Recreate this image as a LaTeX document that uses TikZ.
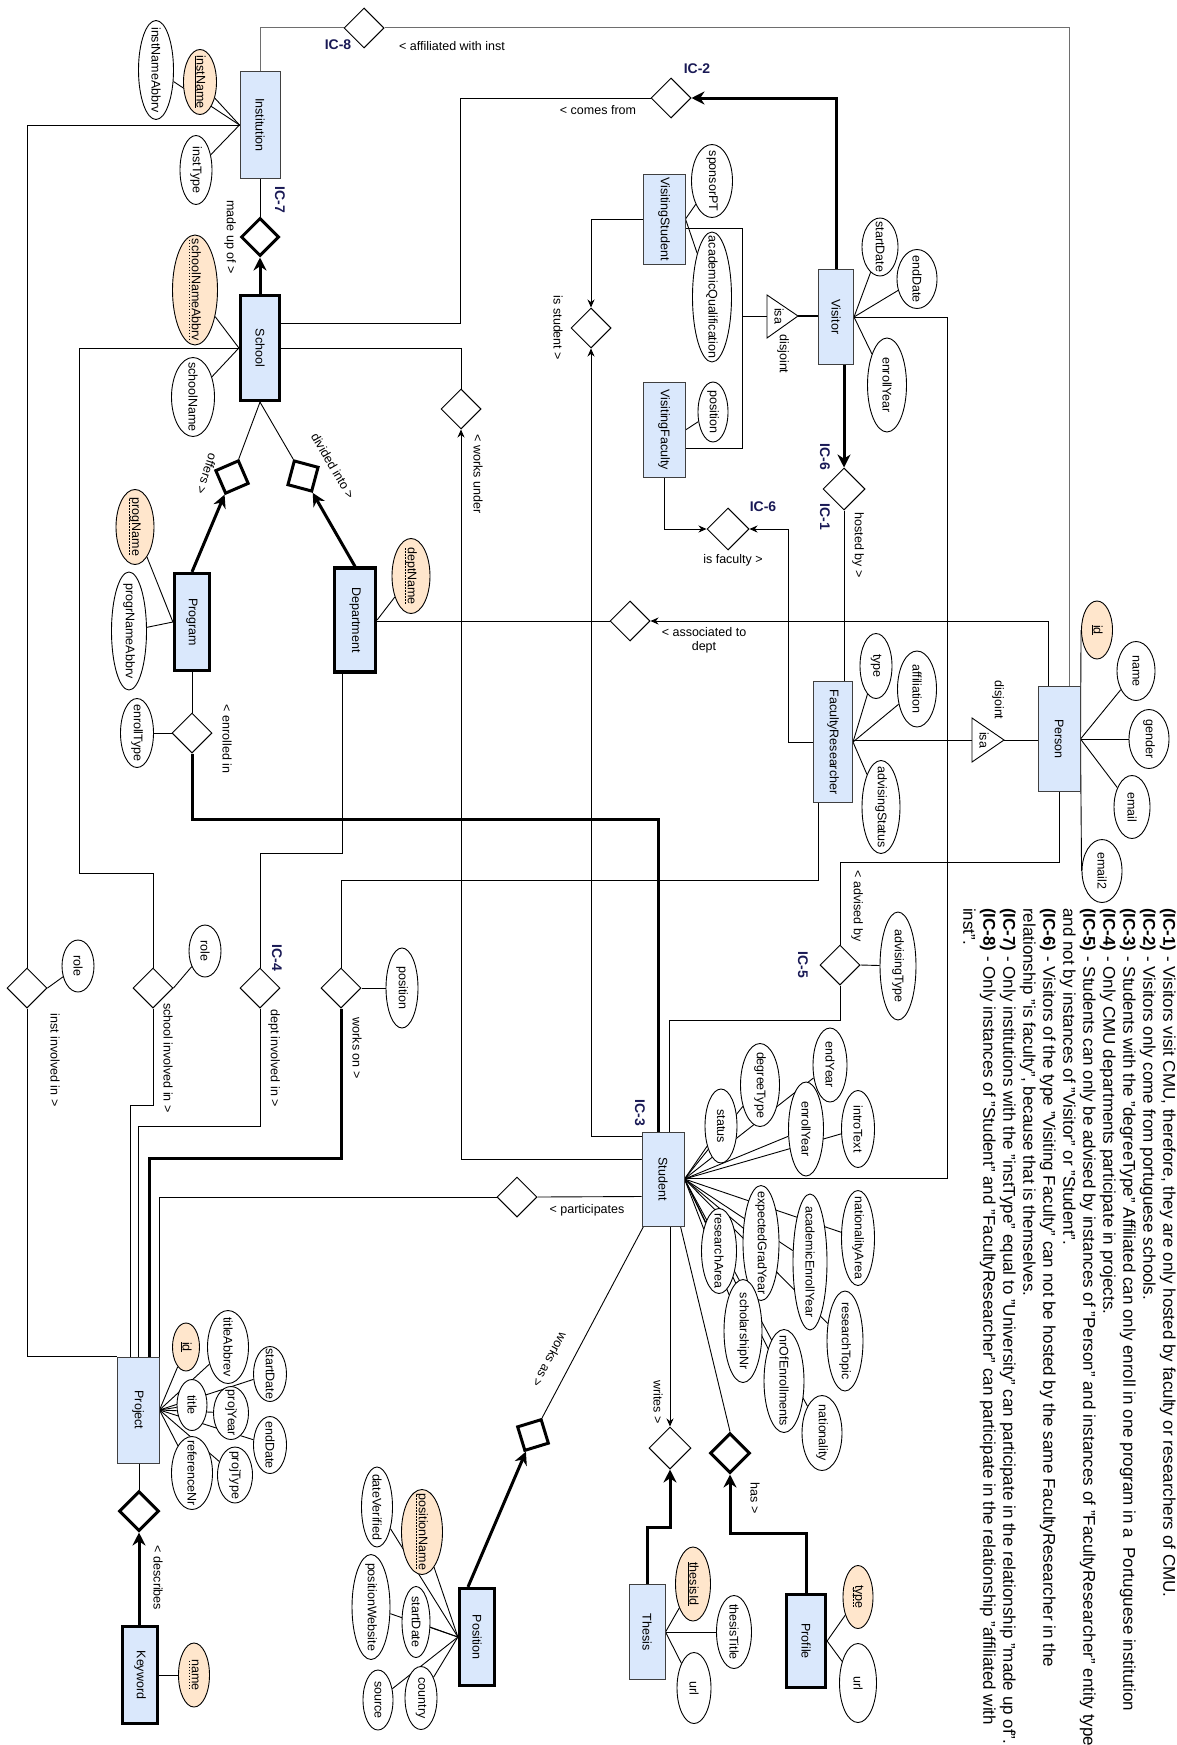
\documentclass[tikz,border=0pt]{standalone}
\usepackage{fontspec}
\setmainfont{Liberation Sans}
\usetikzlibrary{shapes.geometric,arrows.meta,calc,backgrounds}
\definecolor{entfill}{HTML}{DAE8FC}
\definecolor{keyfill}{HTML}{FFE6CC}
\definecolor{icnavy}{RGB}{25,25,85}
\definecolor{edgegray}{RGB}{110,110,110}
\newcommand\fsz{\fontsize{12.5}{14}\selectfont}
\newcommand\icfont{\fontsize{14}{16}\selectfont\bfseries}
\newcommand\notefont{\fontsize{17}{20}\selectfont}
\newcommand\uln[1]{\underline{#1}}
\newsavebox\dulbox
\newcommand\dul[1]{\sbox\dulbox{#1}\leavevmode\rlap{\raisebox{-2.6pt}{\hbox to \wd\dulbox{\cleaders\hbox to 3pt{\hss\rule{1.6pt}{0.6pt}\hss}\hfill}}}\usebox\dulbox}
\tikzset{
 ent/.style={rectangle, draw=black!75, fill=entfill, line width=1pt, inner sep=0},
 went/.style={ent, draw=black, line width=3.2pt},
 attr/.style={ellipse, draw=black, fill=white, line width=0.9pt, inner sep=0},
 key/.style={attr, fill=keyfill},
 rel/.style={diamond, draw=black, fill=white, line width=1pt, inner sep=0, minimum width=40pt, minimum height=40pt},
 wrel/.style={rel, line width=3pt},
 lbl/.style={font=\fsz, inner sep=0},
 txt/.style={lbl, rotate=-90},
 ic/.style={font=\icfont, text=icnavy, inner sep=0},
 ln/.style={line width=0.9pt, draw=black},
 tln/.style={line width=3pt, draw=black},
 arr/.style={ln, -{Stealth[length=8pt,width=7pt]}},
 tarr/.style={tln, -{Stealth[length=13pt,width=13pt]}},
 gln/.style={line width=1pt, draw=edgegray},
 isashape/.style={draw=black, fill=white, line width=0.9pt},
}
\newcommand\Ent[7][ent]{\node[#1,minimum width=#5pt,minimum height=#6pt] (#2) at (#3,#4) {};\node[txt] (#2-t) at (#2) {#7};}
\newcommand\Att[7][attr]{\node[#1,minimum width=#5pt,minimum height=#6pt] (#2) at (#3,#4) {};\node[txt] (#2-t) at (#2) {#7};}
\begin{document}
\begin{tikzpicture}[x=1pt,y=-1pt]
\useasboundingbox (0,0) rectangle (1176,1745);

% ---------- entities
\Ent{inst}{260}{125}{40}{106}{Institution}
\Ent[went]{school}{260}{348}{39}{105}{School}
\Ent[went]{program}{192}{622}{35}{97}{Program}
\Ent[went]{dept}{355}{620}{41}{104}{Department}
\Ent{vstud}{664}{219}{42}{90}{VisitingStudent}
\Ent{vfac}{664}{430}{42}{95}{VisitingFaculty}
\Ent{visitor}{836}{317}{35}{95}{Visitor}
\Ent{fr}{833}{742}{39}{121}{FacultyResearcher}
\Ent{person}{1059}{739}{42}{105}{Person}
\Ent{student}{663}{1179}{42}{94}{Student}
\Ent{project}{138}{1410}{42}{106}{Project}
\Ent[went]{keyword}{140}{1675}{35}{97}{Keyword}
\Ent[went]{position}{477}{1637}{35}{97}{Position}
\Ent{thesis}{647}{1632}{36}{95}{Thesis}
\Ent[went]{profile}{806}{1641}{39}{93}{Profile}

% ---------- relationships
\node[rel] (affil) at (364,28) {};
\node[rel] (comes) at (671,98) {};
\node[wrel, minimum width=38pt, minimum height=38pt] (madeup) at (260,237) {};
\node[rel] (isstud) at (591,328) {};
\node[rel] (worksunder) at (461,409) {};
\node[rel, minimum width=42pt, minimum height=42pt] (hosted) at (844,489) {};
\node[rel, minimum width=42pt, minimum height=42pt] (isfac) at (728,529) {};
\node[rel] (assoc) at (630,621) {};
\node[rel] (enrolled) at (192,733) {};
\node[wrel, minimum width=36pt, minimum height=36pt, rotate=-21.6] (offers) at (232,477) {};
\node[wrel, minimum width=36pt, minimum height=36pt, rotate=30] (divided) at (303,476) {};
\node[wrel, minimum width=36pt, minimum height=36pt, rotate=-28] (worksas) at (533,1435) {};
\node[rel, minimum width=42pt, minimum height=42pt] (writes) at (670,1448) {};
\node[wrel] (has) at (730,1453) {};
\node[wrel] (describes) at (139,1511) {};
\node[rel] (workson) at (341,988) {};
\node[rel] (deptinv) at (260,988) {};
\node[rel] (schoolinv) at (153,988) {};
\node[rel] (instinv) at (27,988) {};
\node[rel] (advised) at (840,965) {};
\node[rel] (particip) at (517,1197) {};

% ---------- isa triangles
\coordinate (isa1b) at (767,316);
\coordinate (isa1a) at (798,316);
\draw[isashape] (767,295) -- (isa1a) -- (767,338) -- cycle;
\coordinate (isa2b) at (972,740);
\coordinate (isa2a) at (1004,740);
\draw[isashape] (972,718) -- (isa2a) -- (972,762) -- cycle;
\node[txt] (isa1-t) at (779,316) {isa};
\node[txt] (isa2-t) at (984,740) {isa};

% ---------- attributes
\Att{instNameAbbrv}{156}{70}{35}{99}{instNameAbbrv}
\Att[key]{instName}{200}{82}{33}{65}{\uln{instName}}
\Att{instType}{196}{170}{32}{69}{instType}
\Att[key]{schoolNameAbbrv}{195}{290}{45}{110}{\dul{schoolNameAbbrv}}
\Att{schoolName}{193}{397}{43}{79}{schoolName}
\Att[key]{progName}{135}{527}{38}{75}{\dul{progName}}
\Att{progrNameAbbrv}{129}{631}{35}{118}{progrNameAbbrv}
\Att{enrollType}{137}{733}{33}{69}{enrollType}
\Att[key]{deptName}{411}{576}{38}{75}{\dul{deptName}}
\Att{sponsorPT}{712}{181}{41}{73}{sponsorPT}
\Att{acadQual}{712}{297}{39}{130}{academicQualification}
\Att{vfpos}{713}{412}{30}{60}{position}
\Att{vstart}{880}{247}{36}{58}{startDate}
\Att{vend}{917}{279}{40}{59}{endDate}
\Att{venroll}{887}{385}{39}{94}{enrollYear}
\Att{frtype}{876}{666}{32}{65}{type}
\Att{affiliation}{917}{689}{39}{76}{affiliation}
\Att{advStatus}{881}{807}{38}{93}{advisingStatus}
\Att[key]{perid}{1097}{630}{31}{58}{\uln{id}}
\Att{pname}{1136}{671}{38}{59}{name}
\Att{gender}{1149}{739}{40}{59}{gender}
\Att{email}{1132}{807}{36}{63}{email}
\Att{email2}{1102}{871}{40}{63}{email2}
\Att{wpos}{402}{988}{32}{80}{position}
\Att{role1}{205}{951}{32}{52}{role}
\Att{role2}{78}{966}{32}{52}{role}
\Att{advType}{898}{966}{36}{108}{advisingType}
\Att{status}{721}{1126}{32}{74}{status}
\Att{degreeType}{760}{1085}{39}{83}{degreeType}
\Att{senroll}{806}{1129}{35}{94}{enrollYear}
\Att{endYear}{830}{1065}{34}{74}{endYear}
\Att{introText}{858}{1129}{33}{77}{introText}
\Att{expGrad}{761}{1243}{36}{115}{expectedGradYear}
\Att{resArea}{719}{1251}{35}{85}{researchArea}
\Att{acadEnroll}{810}{1262}{34}{136}{academicEnrollYear}
\Att{natArea}{858}{1238}{33}{95}{nationalityArea}
\Att{resTopic}{845}{1341}{36}{100}{researchTopic}
\Att{scholNr}{743}{1331}{38}{103}{scholarshipNr}
\Att{nrEnroll}{784}{1381}{40}{103}{nrOfEnrollments}
\Att{nationality}{822}{1433}{40}{75}{nationality}
\Att[key]{pid}{186}{1347}{27}{48}{\uln{id}}
\Att{titleAbbrev}{228}{1347}{41}{73}{titleAbbrev}
\Att{pstart}{270}{1374}{33}{55}{startDate}
\Att{title}{192}{1405}{30}{51}{title}
\Att{projYear}{231}{1413}{35}{53}{projYear}
\Att{pend}{270}{1445}{33}{57}{endDate}
\Att{refNr}{192}{1473}{41}{73}{referenceNr}
\Att{projType}{235}{1475}{35}{56}{projType}
\Att[key]{kname}{194}{1675}{31}{64}{\dul{name}}
\Att[key]{posName}{422}{1532}{41}{85}{\dul{positionName}}
\Att{posStart}{416}{1622}{28}{71}{startDate}
\Att{country}{421}{1698}{32}{63}{country}
\Att{dateVer}{377}{1507}{31}{80}{dateVerified}
\Att{posWeb}{371}{1607}{38}{105}{positionWebsite}
\Att{source}{378}{1700}{30}{60}{source}
\Att[key]{thesisId}{693}{1584}{35}{74}{\uln{thesisId}}
\Att{thesisTitle}{734}{1632}{35}{73}{thesisTitle}
\Att{turl}{694}{1688}{34}{71}{url}
\Att[key]{ptype}{858}{1597}{30}{63}{\dul{type}}
\Att{purl}{858}{1683}{37}{79}{url}

% ---------- relationship labels
\node[txt] (l1) at (230,237) {made up of >};
\node[txt] (l2) at (227,739) {< enrolled in};
\node[lbl, rotate=-108] (l3) at (207,474) {offers >};
\node[lbl, rotate=-60] (l4) at (333,466) {divided into >};
\node[txt] (l5) at (478,474) {< works under};
\node[txt] (l6) at (558,328) {is student >};
\node[txt] (l7) at (858,545) {hosted by >};
\node[txt] (l8) at (783,354) {disjoint};
\node[txt] (l9) at (998,700) {disjoint};
\node[txt] (l10) at (357,1048) {works on >};
\node[txt] (l11) at (274,1058) {dept involved in >};
\node[txt] (l12) at (168,1058) {school involved in >};
\node[txt] (l13) at (55,1060) {inst involved in >};
\node[txt] (l14) at (857,906) {< advised by};
\node[txt] (l15) at (658,1402) {writes >};
\node[txt] (l16) at (755,1498) {has >};
\node[txt] (l17) at (158,1578) {< describes};
\node[lbl, rotate=-118] (l18) at (550,1360) {works as >};
\node[lbl] (l19) at (452,46) {< affiliated with inst};
\node[lbl] (l20) at (598,110) {< comes from};
\node[lbl] (l21) at (733,560) {is faculty >};
\node[lbl, align=center] (l22) at (704,640) {< associated to\\dept};
\node[lbl] (l23) at (587,1210) {< participates};

% ---------- IC labels
\node[ic] (ic8) at (338,45) {IC-8};
\node[ic] (ic2) at (697,69) {IC-2};
\node[ic, rotate=-90] (ic7) at (280,200) {IC-7};
\node[ic, rotate=-90] (ic6a) at (825,457) {IC-6};
\node[ic, rotate=-90] (ic1) at (825,517) {IC-1};
\node[ic] (ic6b) at (763,507) {IC-6};
\node[ic, rotate=-90] (ic4) at (277,958) {IC-4};
\node[ic, rotate=-90] (ic5) at (803,965) {IC-5};
\node[ic, rotate=-90] (ic3) at (640,1113) {IC-3};

% ---------- notes
\node[rotate=-90, anchor=north west, inner sep=0, align=left, font=\notefont] (notes) at (1176,908) {%
\textbf{(IC-1)} - Visitors visit CMU, therefore, they are only hosted by faculty or researchers of CMU.\\
\textbf{(IC-2)} - Visitors only come from portuguese schools.\\
\textbf{(IC-3)} - Students with the "degreeType" Affiliated can only enroll in one program in a\ \ Portuguese institution\\
\textbf{(IC-4)} - Only CMU departments participate in projects.\\
\textbf{(IC-5)} - Students can only be advised by instances of "Person" and instances of "FacultyResearcher" entity type\\
and not by instances of "Visitor" or "Student".\\
\textbf{(IC-6)} - Visitors of the type "Visiting Faculty" can not be hosted by the same FacultyResearcher in the\\
relationship "is faculty", because that is themselves.\\
\textbf{(IC-7)} - Only institutions with the "instType" equal to "University" can participate in the relationship "made up of".\\
\textbf{(IC-8)} - Only instances of "Student" and "FacultyResearcher" can participate in the relationship "affiliated with\\
inst".};

% ---------- connectors
\begin{pgfonlayer}{background}
\draw[gln] (inst.north) |- (affil.west);
\draw[gln] ($(person.north)+(10,0)$) |- (affil.east);
\coordinate (cf) at (460,323);
\draw[ln] (comes.west) -| (cf) -- (cf -| school.east);
\draw[tarr] (visitor.north) |- (comes.east);
\draw[ln] (inst.south) -- (madeup.north);
\draw[tarr] (school.north) -- (madeup.south);
\draw[ln] (school.south) -- (offers);
\draw[ln] (school.south) -- (divided);
\draw[tarr] (program.north) -- (offers);
\draw[tarr] (dept.north) -- (divided);
\draw[ln] (program.south) -- (enrolled.north);
\draw[ln] (enrolled.west) -- (enrollType);
\coordinate (en) at (658,819);
\draw[tln] (enrolled.south) |- (en) -- (en |- student.north);
\draw[arr] (vstud.west) -| (isstud.north);
\draw[arr] ($(student.north west)+(0,5)$) -| (isstud.south);
\draw[ln] (worksunder.north) |- (school.east);
\draw[arr] ($(student.north west)+(0,28)$) -| (worksunder.south);
\draw[arr] (vfac.south) |- (isfac.west);
\coordinate (fa) at (788,0);
\draw[arr] (fr.west) -- (fr.west -| fa) |- (isfac.east);
\draw[arr] ($(person.north)+(-11,0)$) |- (assoc.east);
\draw[ln] (assoc.west) -- (assoc.west -| dept.east);
\draw[tarr] (hosted.north |- visitor.south) -- (hosted.north);
\draw[ln] (hosted.south) -- (hosted.south |- fr.north);
\coordinate (j1) at (742,316);
\draw[ln] ($(vstud.east)+(0,9)$) -| (j1) -- (isa1b);
\draw[ln] ($(vfac.east)+(0,18)$) -| (j1);
\draw[ln, line width=2pt] (isa1a) -- (isa1a -| visitor.west);
\draw[ln] (isa2b -| fr.east) -- (isa2b);
\draw[ln] (isa2a) -- (isa2a -| person.west);
\coordinate (a1) at (840,862);
\draw[ln] (person.south) |- (a1) -- (advised.north);
\coordinate (a2) at (669,1020);
\draw[ln] (advised.south) |- (a2) -- (a2 |- student.north);
\draw[ln] (advised.east) -- (advType);
\coordinate (v1) at (947,1178);
\draw[ln] (visitor.east) -| (v1) -- (v1 -| student.east);
\coordinate (w1) at (341,880);
\draw[ln] ($(fr.south)+(-15,0)$) |- (w1) -- (workson.north);
\draw[ln] (workson.east) -- (wpos);
\coordinate (w2) at (149,1158);
\draw[tln] (workson.south) |- (w2) -- (w2 |- project.north);
\coordinate (d1) at (260,853);
\draw[ln] ($(dept.south)+(-13,0)$) |- (d1) -- (deptinv.north);
\coordinate (d2) at (138,1126);
\draw[ln] (deptinv.south) |- (d2) -- (d2 |- project.north);
\coordinate (s1) at (79,873);
\draw[ln] (school.west) -| (s1) -| (schoolinv.north);
\coordinate (s2) at (130,1105);
\draw[ln] (schoolinv.south) |- (s2) -- (s2 |- project.north);
\draw[ln] (schoolinv.east) -- (role1);
\draw[ln] (inst.west) -| (instinv.north);
\draw[ln] (instinv.south) |- (project.north west);
\draw[ln] (instinv.east) -- (role2);
\draw[ln] ($(student.north west)+(0,65)$) -- (particip.east);
\draw[ln] (particip.west) -| (project.north east);
\draw[arr] (writes.north |- student.south) -- (writes.north);
\coordinate (t1) at (670,1527);
\draw[tarr] (thesis.north) |- (t1) -- (writes.south);
\draw[ln] ($(student.south east)+(-4,0)$) -- (has.north);
\coordinate (h1) at (730,1533);
\draw[tarr] (profile.north) |- (h1) -- (has.south);
\draw[ln] ($(student.south west)+(2,0)$) -- (worksas);
\draw[tarr] ($(position.north)+(-9,0)$) -- (worksas);
\draw[ln] (describes.north |- project.south) -- (describes.north);
\draw[tarr] (describes.south |- keyword.north) -- (describes.south);
% attribute links
\foreach \a in {instNameAbbrv,instName,instType} \draw[ln] (inst.west) -- (\a);
\foreach \a in {schoolNameAbbrv,schoolName} \draw[ln] (school.west) -- (\a);
\foreach \a in {progName,progrNameAbbrv} \draw[ln] (program.west) -- (\a);
\draw[ln] (dept.east) -- (deptName);
\foreach \a in {sponsorPT,acadQual} \draw[ln] (vstud.east) -- (\a);
\draw[ln] (vfac.east) -- (vfpos);
\foreach \a in {vstart,vend,venroll} \draw[ln] (visitor.east) -- (\a);
\foreach \a in {frtype,affiliation,advStatus} \draw[ln] (fr.east) -- (\a);
\draw[ln] (person.east) -- (perid.west);
\draw[ln] (person.east) -- (email2.west);
\foreach \a in {pname,gender,email} \draw[ln] (person.east) -- (\a);
\foreach \a in {status,degreeType,senroll,endYear,introText,expGrad,resArea,acadEnroll,natArea,resTopic,scholNr,nrEnroll,nationality} \draw[ln] (student.east) -- (\a);
\foreach \a in {pid,titleAbbrev,pstart,title,projYear,pend,refNr,projType} \draw[ln] (project.east) -- (\a);
\draw[ln] (keyword.east) -- (kname);
\foreach \a in {posName,posStart,country,dateVer,posWeb,source} \draw[ln] (position.west) -- (\a);
\foreach \a in {thesisId,thesisTitle,turl} \draw[ln] (thesis.east) -- (\a);
\foreach \a in {ptype,purl} \draw[ln] (profile.east) -- (\a);
\end{pgfonlayer}
\end{tikzpicture}
\end{document}
